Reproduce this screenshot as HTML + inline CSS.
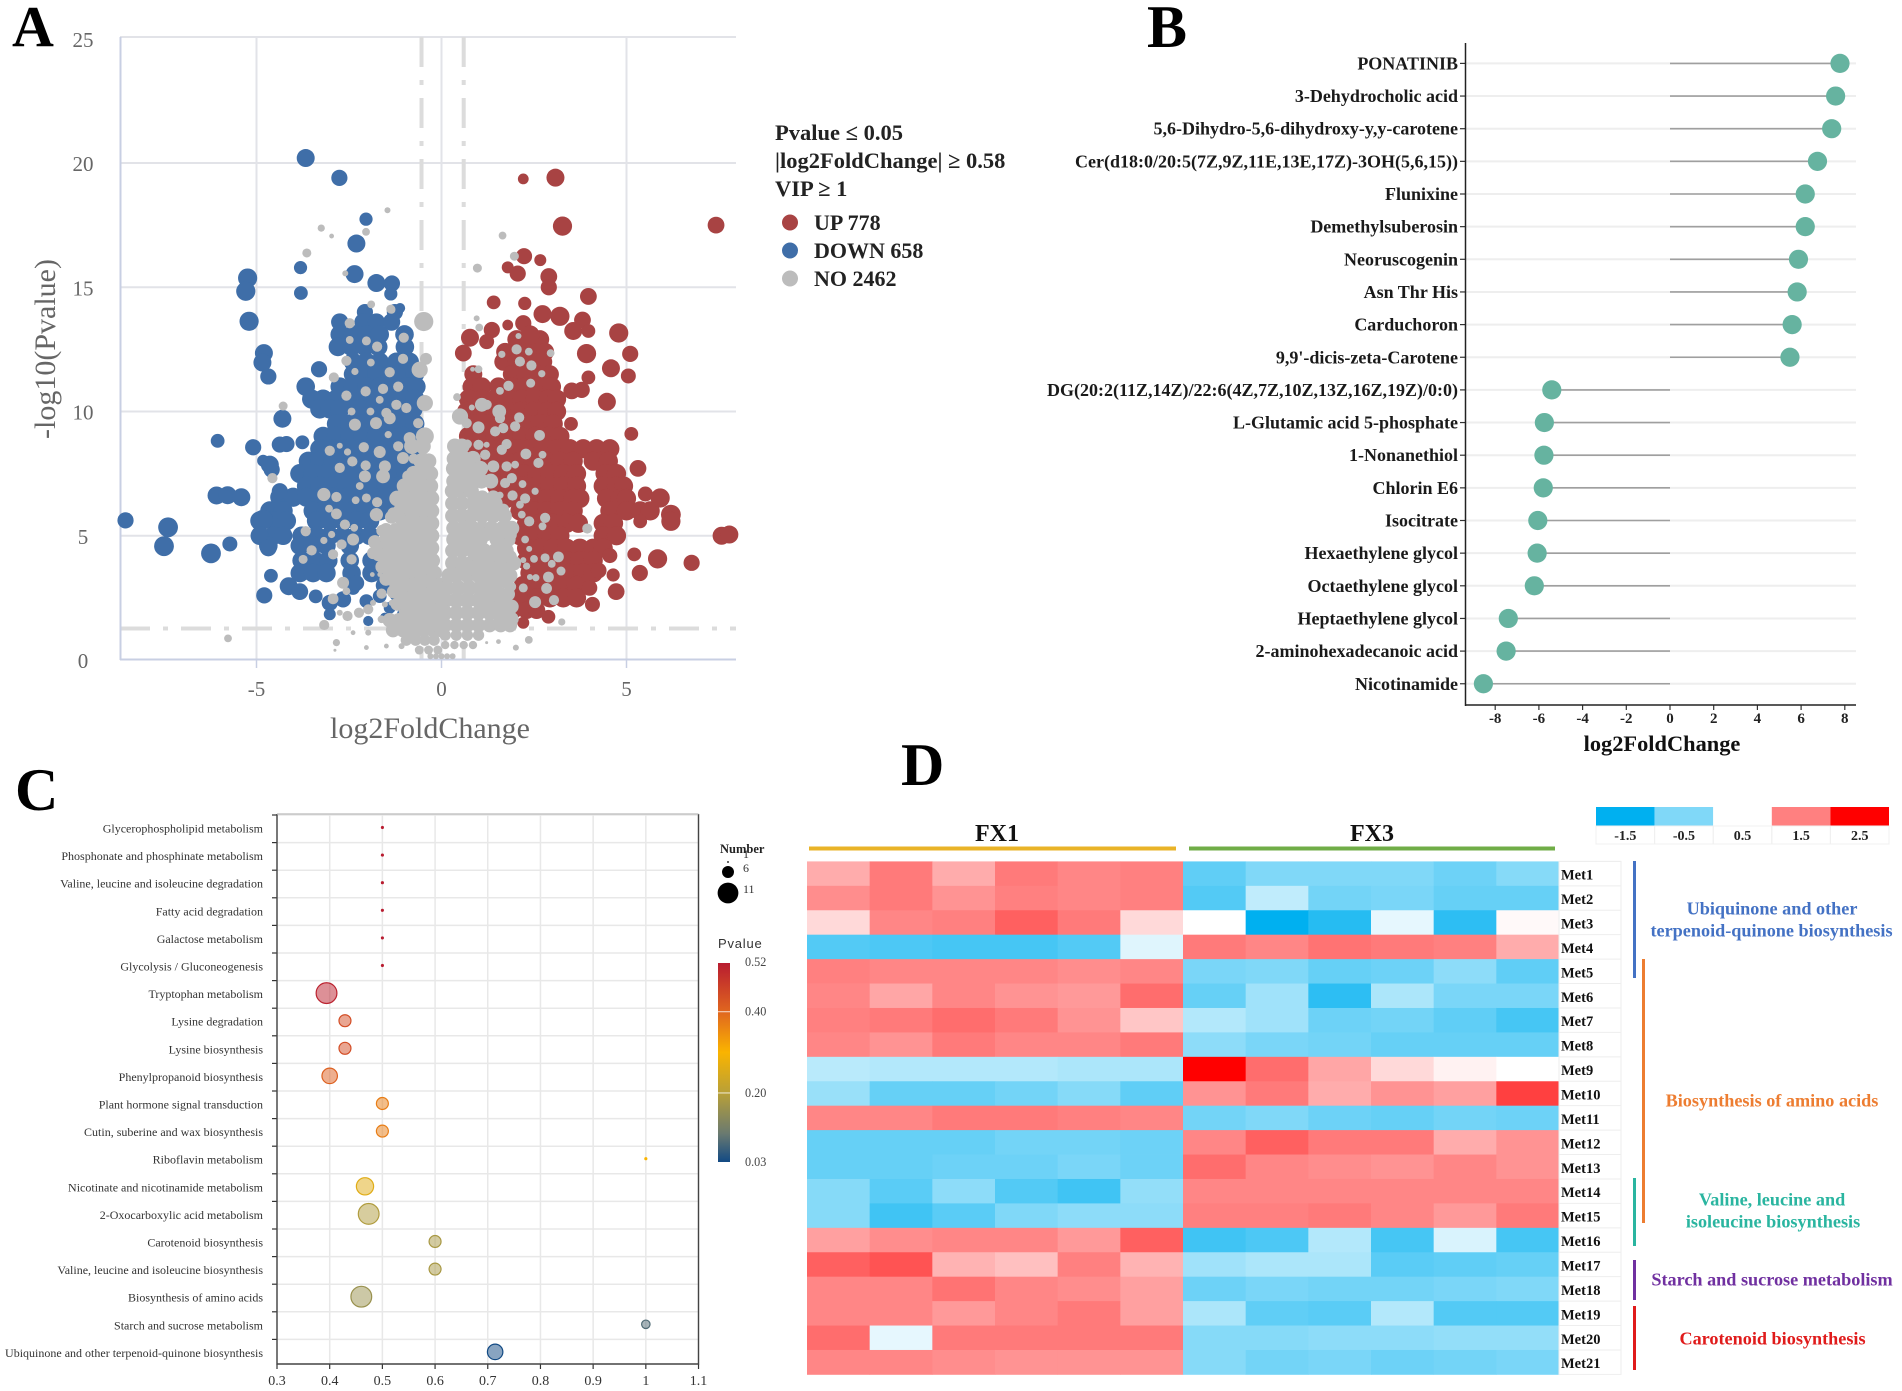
<!DOCTYPE html>
<html lang="en">
<head>
<meta charset="utf-8">
<title>Metabolomics figure</title>
<style>
html,body{margin:0;padding:0;background:#fff;}
#fig{display:block;width:1902px;height:1391px;font-family:"Liberation Serif",serif;}
text{font-family:"Liberation Serif",serif;}
</style>
</head>
<body>
<svg id="fig" xmlns="http://www.w3.org/2000/svg" width="1902" height="1391" viewBox="0 0 1902 1391">
  <rect width="1902" height="1391" fill="#fff"/>
  <g id="panelA"></g>
  <g id="panelB"></g>
  <g id="panelC"></g>
  <g id="panelD"></g>

  <text x="12" y="46" font-size="58" font-weight="bold" fill="#000">A</text>
  <text x="1147" y="47" font-size="60" font-weight="bold" fill="#000">B</text>
  <text x="15" y="810" font-size="60" font-weight="bold" fill="#000">C</text>
  <text x="901" y="785" font-size="60" font-weight="bold" fill="#000">D</text>

  <text x="430" y="738" font-size="30" fill="#666" text-anchor="middle">log2FoldChange</text>
  <text transform="translate(55,349) rotate(-90)" font-size="30" fill="#666" text-anchor="middle">-log10(Pvalue)</text>

  <text x="775" y="140" font-size="22.5" font-weight="bold" fill="#222">Pvalue ≤ 0.05</text>
  <text x="775" y="168" font-size="22.5" font-weight="bold" fill="#222">|log2FoldChange| ≥ 0.58</text>
  <text x="775" y="196" font-size="22.5" font-weight="bold" fill="#222">VIP ≥ 1</text>
  <circle cx="790" cy="222.5" r="8" fill="#a84343"/>
  <circle cx="790" cy="250.5" r="8" fill="#3f6ea8"/>
  <circle cx="790" cy="278.5" r="8" fill="#bcbcbc"/>
  <text x="814" y="230" font-size="22" font-weight="bold" fill="#222">UP 778</text>
  <text x="814" y="258" font-size="22" font-weight="bold" fill="#222">DOWN 658</text>
  <text x="814" y="286" font-size="22" font-weight="bold" fill="#222">NO 2462</text>

  <text x="1662" y="751" font-size="22.4" font-weight="bold" fill="#111" text-anchor="middle">log2FoldChange</text>

  <text x="720" y="853" font-size="12.5" font-weight="bold" fill="#222">Number</text>
  <text x="718" y="948" font-size="13" letter-spacing="0.8" style="font-family:'Liberation Sans',sans-serif" fill="#333">Pvalue</text>

  <text x="997" y="841" font-size="24" font-weight="bold" fill="#111" text-anchor="middle">FX1</text>
  <text x="1372" y="841" font-size="24" font-weight="bold" fill="#111" text-anchor="middle">FX3</text>
  <rect x="809" y="846.5" width="367" height="4" fill="#e9b327"/>
  <rect x="1189" y="846.5" width="366" height="4" fill="#70ad47"/>

  <rect x="1633" y="861" width="3" height="117" fill="#4472c4"/>
  <rect x="1642" y="959" width="3" height="264" fill="#ed7d31"/>
  <rect x="1633" y="1178" width="3" height="68" fill="#2ab5a0"/>
  <rect x="1633" y="1260" width="3" height="40" fill="#7030a0"/>
  <rect x="1633" y="1306" width="3" height="64" fill="#e01b1b"/>

  <g font-size="18.2" font-weight="bold" text-anchor="middle">
    <text x="1772" y="914.5" fill="#4472c4">Ubiquinone and other</text>
    <text x="1771.5" y="936.5" fill="#4472c4">terpenoid-quinone biosynthesis</text>
    <text x="1772" y="1106.5" fill="#ed7d31">Biosynthesis of amino acids</text>
    <text x="1772" y="1205.5" fill="#2ab5a0">Valine, leucine and</text>
    <text x="1773" y="1227.5" fill="#2ab5a0">isoleucine biosynthesis</text>
    <text x="1772" y="1285.5" fill="#7030a0">Starch and sucrose metabolism</text>
    <text x="1772.5" y="1344.5" fill="#e01b1b">Carotenoid biosynthesis</text>
  </g>
</svg>

<script>
/* ---------- Panel A data: [y, bubble size, [x values]] rows and [x, y, size] single points ---------- */
const downRows = [
[14,2.7,[-2.07,-1.26]],
[13.6,2.9,[-2.75,-2.12,-1.76,-1.35]],
[13.1,3.1,[-2.75,-2.39,-2.03,-1.67,-1.0]],
[12.6,3.1,[-2.8,-2.43,-2.07,-1.71,-0.99]],
[12,3.1,[-2.39,-2.03,-1.67,-1.22,-0.86]],
[11.5,3.1,[-2.39,-2.03,-1.76,-1.4,-1.04,-0.72]],
[11,3.1,[-3.67,-2.75,-2.39,-2.03,-1.67,-1.31,-0.95,-0.68]],
[10.5,3.2,[-3.51,-3.2,-2.84,-2.48,-2.12,-1.76,-1.4,-1.04,-0.72]],
[10.1,3.2,[-3.29,-3.02,-2.75,-2.21,-1.85,-1.49,-1.13,-0.77]],
[9.5,3.2,[-2.84,-2.48,-2.12,-1.76,-1.4,-1.04,-0.72]],
[9,3.2,[-3.2,-2.84,-2.48,-2.12,-1.76,-1.4,-1.04,-0.72]],
[8.5,3.2,[-3.29,-2.93,-2.57,-2.21,-1.85,-1.49,-1.13,-0.77]],
[8,3.2,[-3.6,-3.29,-2.93,-2.57,-2.21,-1.85,-1.49,-1.13,-0.77]],
[7.5,3.2,[-3.83,-3.47,-3.11,-2.75,-2.39,-2.03,-1.67,-1.31,-0.95]],
[7,3.2,[-3.65,-3.29,-2.93,-2.57,-2.21,-1.85,-1.49,-1.13]],
[6.55,3.2,[-4.37,-4.01,-3.65,-3.29,-2.93,-2.57,-2.21,-1.85,-1.49]],
[6,3.2,[-4.64,-4.28,-3.47,-3.11,-2.75,-2.39,-2.03,-1.67,-1.31]],
[5.6,3.2,[-4.91,-4.55,-4.19,-3.38,-3.02,-2.66,-2.3,-1.94]],
[5,3.1,[-4.91,-4.55,-4.28,-3.78,-3.38,-3.02,-2.66,-2.3,-1.94]],
[4.6,3.1,[-4.68,-3.83,-3.47,-3.11,-2.48]],
[4,3.1,[-3.78,-3.42,-3.06,-2.48,-1.89,-1.58]],
[3.5,3.1,[-3.83,-3.47,-3.11,-2.43,-1.89,-1.58]]
];
const downPoints = [
[-3.67,20.2,3],[-2.76,19.4,2.7],[-2.04,17.74,2.2],[-2.3,16.76,3],[-2.35,15.53,3],[-3.81,15.79,2.2],[-3.8,14.77,2.3],
[-5.24,15.37,3.2],[-5.29,14.84,3.2],[-5.2,13.63,3.2],[-1.76,15.17,3],[-1.34,15.15,2.7],[-1.37,14.73,2.2],[-1.12,14.16,1.7],
[-4.61,3.39,2.3],[-4.79,2.6,2.7],[-4.13,2.97,3],[-3.83,2.75,2.8],[-3.4,2.56,2.3],[-3.02,2.3,2.7],[-3.02,1.84,2],[-2.66,2.44,2.7],
[-2.39,2.9,2.3],[-2.03,2.37,2.3],[-1.98,1.57,1.7],[-1.67,2.57,2.3],[-1.4,2.1,2],[-1.53,1.7,1.7],[-1.22,2.64,2.3],[-1.04,1.84,2],
[-4.8,12.35,3],[-4.84,11.97,3],[-4.68,11.41,2.7],[-3.31,11.7,2.7],[-4.3,9.71,3],[-6.05,8.82,2.3],[-5.09,8.56,2.7],[-4.37,8.67,2.7],
[-4.19,8.69,2.7],[-3.76,8.76,2.3],[-4.82,8.02,2],[-4.64,7.86,3],[-4.59,7.66,2.7],[-6.08,6.62,3],[-5.78,6.63,3],[-5.41,6.55,3],
[-8.54,5.62,2.7],[-7.39,5.34,3.3],[-7.5,4.58,3.3],[-6.23,4.29,3.3],[-5.72,4.67,2.5],[-4.37,6.79,2.7],[-4.82,5.65,3.3],[-4.91,5.05,2.8],[-4.68,4.51,2.8],
[-2.3,3.1,2.6],[-1.55,3,2.8],[-1.2,3.1,2.6]
];
const upRows = [
[12.9,3.1,[2.03,2.39,2.66]],
[12.4,3,[1.72,2.08,2.44,2.8]],
[12,3,[1.67,2.03,2.39,2.75]],
[11.5,3,[0.86,1.9,2.26,2.62,2.93]],
[11,3.1,[0.82,1.09,1.54,1.9,2.26,2.62,2.98]],
[10.5,3.2,[0.73,1.09,1.45,1.81,2.17,2.53,2.89,3.11]],
[10,3.2,[0.68,1.04,1.4,1.76,2.12,2.48,2.84,3.11]],
[9.5,3.2,[0.86,1.22,1.58,1.94,2.3,2.66,3.02]],
[9,3.2,[0.73,1.09,1.45,1.81,2.17,2.53,2.89,3.2]],
[8.5,3.2,[0.95,1.31,1.67,2.03,2.39,2.75,3.11,3.47,3.83,4.19,4.55]],
[8,3.2,[1.04,1.4,1.76,2.12,2.48,2.84,3.2,3.56,4.1,4.51]],
[7.5,3.2,[1.13,1.49,1.85,2.21,2.57,2.93,3.29,3.65,4.42,4.73]],
[7,3.2,[1.49,1.85,2.21,2.57,2.93,3.29,3.65,4.37,4.73,4.92]],
[6.5,3.2,[1.76,2.12,2.48,2.84,3.2,3.56,3.74,4.46,4.83,5.0]],
[6,3.2,[2.12,2.48,2.84,3.2,3.56,4.55,5.0,5.37,5.64]],
[5.5,3.2,[2.3,2.66,3.02,3.38,3.7,4.37,4.65]],
[5,3.2,[2.12,2.48,2.84,3.2,4.37,4.73]],
[4.5,3.2,[2.3,2.66,3.02,3.38,3.74,4.1,4.37]],
[4,3.2,[2.3,2.66,3.02,3.38,3.74,4.1]],
[3.5,3.2,[2.39,2.75,3.11,3.47,3.83,4.1]],
[3,3.2,[2.21,2.57,2.93,3.29,3.65]],
[2.5,3.2,[1.49,1.85,2.21,2.57,2.93,3.29,3.65]],
[2,2.9,[1.58,1.94,2.3,2.57]]
];
const upPoints = [
[2.21,19.36,1.8],[3.08,19.41,3],[3.27,17.46,3.2],[7.42,17.5,2.8],[2.23,16.25,2.7],[2.67,16.09,2],[1.79,15.8,2],[2.06,15.55,2.7],
[2.9,15.43,2.8],[2.9,15,2.7],[3.97,14.63,2.8],[1.41,14.39,2.3],[2.25,14.35,2.2],[2.73,13.92,3],[3.2,13.83,3.2],[3.81,13.68,2.8],
[3.56,13.24,3],[3.97,13.24,2.3],[1.79,13.48,1.8],[2.21,13.55,2.7],[2.39,13.08,3.2],[1.36,13.28,2.7],[1.22,12.81,2.5],[0.77,12.97,3],
[0.59,12.35,2.8],[4.79,13.16,3.2],[5.1,12.32,2.7],[3.92,12.33,3.2],[4.58,11.74,3],[5.05,11.43,2.5],[3.97,11.37,2.3],[3.52,10.83,2.8],
[3.79,10.87,2.7],[4.47,10.39,3],[3.5,9.5,2.3],[5.13,9.1,2.3],[5.31,7.71,2.8],[5.51,6.68,2.5],[5.91,6.52,3.2],[6.2,5.85,3.3],[6.2,5.58,3.2],
[7.57,5,3],[7.78,5.05,3],[5.21,4.25,2.3],[5.84,4.07,3.2],[6.76,3.91,2.7],[5.36,3.5,2.7],[4.64,3.42,2.2],[4.72,2.75,2.8],[4.08,2.24,2.5],
[2.89,1.74,2.3],[2.21,1.5,2],[5.37,5.58,2.3],
[4.55,4.2,2.5],[4.25,3.6,2.6],[4.0,2.9,2.6]
];
const noRows = [
[8.6,2.6,[-0.8,-0.5]],[8,2.6,[-0.55,-0.35]],[7.5,2.6,[-0.75,-0.5,-0.3]],[7,2.6,[-1.0,-0.75,-0.5,-0.3]],[6.5,2.6,[-1.2,-0.95,-0.7,-0.45,-0.27]],
[6,2.6,[-1.1,-0.8,-0.55,-0.27]],[5.5,2.6,[-1.0,-0.75,-0.5,-0.27]],[5,2.6,[-1.25,-1,-0.75,-0.5,-0.27]],
[4.5,2.6,[-1.6,-1.3,-1.0,-0.75,-0.5,-0.27]],[4,2.6,[-1.4,-1.15,-0.9,-0.65,-0.4,-0.25]],[3.5,2.6,[-1.3,-1.05,-0.8,-0.55,-0.3,-0.2]],
[3,2.6,[-1.2,-0.95,-0.7,-0.45,-0.2,-0.05]],[2.5,2.6,[-1.05,-0.8,-0.55,-0.3,-0.1]],[2,2.6,[-0.95,-0.7,-0.45,-0.2,-0.05]],
[1.6,2.4,[-1.4,-1.15,-0.9,-0.65,-0.4,-0.15]],[1.2,2.4,[-1.31,-1.04,-0.77,-0.5,-0.23,0]],[0.8,1.9,[-0.95,-0.7,-0.45,-0.2]],[0.4,1.5,[-0.6,-0.35,-0.1]],
[0.15,1,[-0.3,-0.15,0,0.15,0.3]],
[5.75,2.2,[-1.35,-1.15]],[5.25,2.2,[-1.5,-1.25]],[4.75,2.3,[-1.8,-1.55,-1.3]],[4.25,2.3,[-1.7,-1.45]],[3.75,2.3,[-1.6,-1.35]],[3.25,2.2,[-1.5,-1.25]],[2.75,2.2,[-1.3,-1.1]],[2.25,2.2,[-1.2,-1]],
[8.6,2.6,[0.36,0.55]],[8.1,2.6,[0.35,0.6,0.85]],[7.7,2.6,[0.33,0.55,0.8,1.05]],[7.2,2.5,[0.33,0.58,0.83,1.08,1.33]],[6.8,2.6,[0.3,0.55,0.8]],
[6.3,2.5,[0.3,0.55,0.85,1.15,1.45]],[5.8,2.5,[0.3,0.55,0.8,1.1,1.4,1.7]],[5.3,2.5,[0.33,0.6,0.85,1.1,1.35,1.65,1.9]],[4.85,2.5,[0.33,0.55,0.8,1.05,1.5,1.8]],
[4.4,2.5,[0.3,0.55,0.85,1.15,1.45,1.75]],[3.9,2.5,[0.3,0.55,0.8,1.1,1.4,1.7,1.95]],[3.4,2.5,[0.2,0.4,0.7,1,1.3,1.6,1.85]],[2.9,2.6,[0.15,0.45,0.75,1.05,1.35]],
[2.4,2.6,[0.1,0.4,0.7,1,1.3,1.6]],[1.9,2.5,[0.1,0.4,0.7,1,1.3,1.6,1.8]],[1.4,2.4,[0.1,0.4,0.7,1,1.3,1.6,1.85]],[1,1.9,[0.1,0.4,0.7,1]],[0.6,1.4,[0.1,0.35,0.6,0.85]],
[6.55,2.3,[1.1,1.4]],[6.05,2.3,[0.9,1.2,1.5]],[5.05,2.3,[1.2,1.55,1.85]],[4.15,2.3,[1,1.3,1.6,1.85]],[3.65,2.3,[0.9,1.2,1.5,1.8]],[3.15,2.3,[1.2,1.5,1.75]],[2.65,2.3,[1.3,1.6,1.8]],[2.15,2.3,[1.3,1.6,1.9]],[1.65,2.3,[1.6,1.9]]
];
const noPoints = [
[-1.46,18.1,1],[-3.25,17.38,1.2],[-2.97,17.06,0.8],[-2.04,17.23,1.3],[-3.64,16.38,1.5],[-2.6,15.56,1],[1.65,17.08,1.3],[1.97,16.25,1.5],[0.97,15.77,1.5],
[-1.9,14.31,1.3],[-1.37,14.12,1.5],[-0.48,13.62,3.2],[-0.59,11.68,2.7],[-0.45,10.34,2.7],[-0.42,12.12,2],[-1.02,12.97,1.7],[-1.35,14.09,1.3],
[-2.48,13.55,1.7],[-2.03,12.84,1.5],[-1.74,12.61,1.7],[-2.48,12.88,1.3],[-1.91,11.97,1.3],[-2.57,12.04,1.7],[-2.34,11.61,1.2],[-1.4,11.58,1.7],
[-1.04,12.12,1.7],[-2.91,11.37,1.7],[-2.05,10.81,1.7],[-2.57,10.64,1.7],[-1.58,10.91,1.7],[-1.67,10.47,1.3],[-1.17,11,1.7],[-1.22,10.27,1.7],
[-0.95,10.14,1.7],[-1.49,9.94,1.7],[-2.43,10,1.3],[-1.92,10,1.3],[-4.28,10.22,1.5],[-2.34,9.47,2],[-1.77,9.53,2],[-1.4,9.73,2],[-0.63,9.53,1.7],
[-0.45,9,3],[-0.86,8.93,2],[-1.44,9.07,1.2],[-1.17,8.6,1.7],[-3.02,8.42,1.7],[-2.75,8.62,1],[-2.54,8.37,1.2],[-2.1,8.56,1.7],[-1.67,8.37,2],
[-1.04,8.13,2],[-0.45,7.66,3],[-2.75,7.73,1.7],[-2.41,7.99,1.7],[-2.05,7.83,1.7],[-1.53,7.79,2],[-2.07,7.39,2],[-1.58,7.39,2.3],[-0.9,7.39,2],
[-4.57,7.32,1.7],[-2.21,7,1.3],[-3.18,6.66,2.2],[-2.84,6.56,1.7],[-2.32,6.43,1.3],[-2.03,6.52,1.5],[-1.74,6.35,1.7],[-3.04,6.09,1.3],[-2.84,5.88,1.8],
[-3.67,5.18,1.7],[-2.61,5.45,1.7],[-2.36,5.32,1.3],[-3.18,4.81,1.2],[-2.97,5.05,1.2],[-3.51,4.41,1.7],[-3.74,4.05,1.5],[-2.93,4.25,1.7],[-2.7,4.65,1.7],
[-2.39,4.85,2],[-2.43,4.05,1.7],[-1.76,5.85,2.2],[-1.76,4.58,2],[-2.66,3.11,2],[-2.57,2.77,1.3],[-2.93,2.46,1.8],[-1.62,2.67,1.7],[-1.98,2.04,1.7],
[-2.23,1.9,1.7],[-2.54,1.77,1.7],[-2.75,1.9,1],[-3.17,1.41,1.7],[-5.77,0.87,1.3],[-2.84,0.7,1.2],[-2.88,0.39,0.5],[-2.39,1.1,0.8],[-1.98,1.1,1],
[-2.03,0.5,0.8],[-1.49,0.56,0.8],[-1.08,0.56,1],[-1.85,2.3,1],[-1.53,2.24,1],[-1.35,2.3,1],[-1.62,1.64,1.3],[-1.87,3.44,0.8],[-1.67,3.44,0.8],
[-0.75,8.1,1.7],[-0.5,8.5,2],[-1.6,5.2,2],[-1.85,4.3,2],[-1.3,5.9,2],
[0.5,9.8,2.7],[0.68,9.53,1.7],[0.42,10.58,1.3],[1.09,10.27,2.3],[0.82,10.16,1],[1.56,10,2.3],[1.58,9.73,1.7],[1,9.36,2],[2.1,9.76,1.7],[1.99,9.4,1.7],
[1.67,9.33,1.7],[1.45,9.2,1.7],[2.65,9.04,1.8],[1.76,8.69,1.7],[1.63,8.46,1.7],[0.7,8.69,1.5],[1,8.66,1.7],[1.22,8.66,1],[2.28,8.29,1.8],[2.73,8.26,1.3],
[2.62,7.93,1.7],[1.18,8.26,1.7],[1.4,7.79,2],[1.76,7.79,1.7],[1.99,7.86,1.3],[1.9,7.32,1.7],[1.72,7.12,1.7],[2.19,7.08,1.3],[2.53,6.79,1.2],[1.92,6.62,1.7],
[1.58,6.63,1.2],[2.26,6.5,1.7],[2.12,6.25,1.3],[1.67,6.05,2],[2.17,5.85,1.3],[2.37,5.58,1.7],[2.8,5.72,1.7],[2.73,5.38,1.3],[3.94,5.29,1.7],[2.26,4.85,1.3],
[2.37,4.47,1],[2.21,4.02,1],[2.5,4.07,1.3],[2.3,3.78,1.2],[2.8,4.11,1.5],[3.16,4.15,1.8],[2.98,3.87,1.3],[3.23,3.58,1.5],[2.39,3.34,1],[2.55,3.31,1.2],
[2.89,3.34,1.8],[2.84,2.88,1.8],[2.21,2.9,1.5],[1.88,2.95,1.7],[1.58,2.71,2],[2.53,2.33,2],[3.04,2.41,1.7],[3.25,1.53,1.2],[2.36,0.81,1.3],[2.01,0.5,1],
[1.54,0.74,0.8],[1.22,0.7,0.5],[2.03,12.5,1.7],[1.63,12.3,1.2],[2.36,12.41,1.3],[2.95,12.35,1.3],[2.12,12.01,1.7],[2.43,11.85,1.7],[2.71,11.52,1.2],
[2.41,11.14,1.5],[2.08,13.04,1],[1.81,11.03,1.7],[1.58,10.83,1.3],[1.02,13.38,1.3],[0.95,13.75,1],[1,11.7,1.3],[0.84,11.7,0.8],[1.22,10.27,1.7]
];
const volcanoXTicks = [-5, 0, 5];
const volcanoYTicks = [0, 5, 10, 15, 20, 25];
const foldThresholds = [-0.54, 0.6];
const pThreshold = [1.27];

/* ---------- Panel B data ---------- */
const metabolites = ["PONATINIB","3-Dehydrocholic acid","5,6-Dihydro-5,6-dihydroxy-y,y-carotene","Cer(d18:0/20:5(7Z,9Z,11E,13E,17Z)-3OH(5,6,15))","Flunixine","Demethylsuberosin","Neoruscogenin","Asn Thr His","Carduchoron","9,9'-dicis-zeta-Carotene","DG(20:2(11Z,14Z)/22:6(4Z,7Z,10Z,13Z,16Z,19Z)/0:0)","L-Glutamic acid 5-phosphate","1-Nonanethiol","Chlorin E6","Isocitrate","Hexaethylene glycol","Octaethylene glycol","Heptaethylene glycol","2-aminohexadecanoic acid","Nicotinamide"];
const foldChanges = [7.78,7.58,7.40,6.75,6.19,6.19,5.88,5.82,5.59,5.49,-5.41,-5.75,-5.77,-5.80,-6.05,-6.08,-6.21,-7.40,-7.50,-8.54];
const lollipopTicks = [-8,-6,-4,-2,0,2,4,6,8];

/* ---------- Panel C data ---------- */
const pathways = ["Glycerophospholipid metabolism","Phosphonate and phosphinate metabolism","Valine, leucine and isoleucine degradation","Fatty acid degradation","Galactose metabolism","Glycolysis / Gluconeogenesis","Tryptophan metabolism","Lysine degradation","Lysine biosynthesis","Phenylpropanoid biosynthesis","Plant hormone signal transduction","Cutin, suberine and wax biosynthesis","Riboflavin metabolism","Nicotinate and nicotinamide metabolism","2-Oxocarboxylic acid metabolism","Carotenoid biosynthesis","Valine, leucine and isoleucine biosynthesis","Biosynthesis of amino acids","Starch and sucrose metabolism","Ubiquinone and other terpenoid-quinone biosynthesis"];
const richFactor = [0.5,0.5,0.5,0.5,0.5,0.5,0.394,0.429,0.429,0.4,0.5,0.5,1,0.467,0.474,0.6,0.6,0.46,1,0.714];
const hitNumber = [1,1,1,1,1,1,11,6,6,8,6,6,1,9,11,6,6,11,4,8];
const pathwayP = [0.52,0.52,0.52,0.52,0.52,0.52,0.51,0.44,0.44,0.41,0.37,0.37,0.3,0.26,0.19,0.18,0.18,0.16,0.08,0.03];
const bubbleXTicks = [0.3,0.4,0.5,0.6,0.7,0.8,0.9,1,1.1];
const numberLegend = [1,6,11];
const pLegendTicks = [0.52,0.40,0.20,0.03];

/* ---------- Panel D data ---------- */
const heatRowNames = ["Met1","Met2","Met3","Met4","Met5","Met6","Met7","Met8","Met9","Met10","Met11","Met12","Met13","Met14","Met15","Met16","Met17","Met18","Met19","Met20","Met21"];
const heatValues = [
[1.15,1.55,1.15,1.55,1.45,1.5,-0.75,-0.5,-0.5,-0.5,-0.65,-0.45],
[1.4,1.55,1.35,1.5,1.45,1.5,-0.85,0.0,-0.6,-0.55,-0.7,-0.7],
[0.8,1.45,1.5,1.75,1.55,0.8,0.5,-1.5,-1.2,0.3,-1.15,0.55],
[-0.85,-0.9,-0.95,-0.95,-0.85,0.25,1.55,1.45,1.6,1.55,1.5,1.15],
[1.5,1.45,1.45,1.45,1.4,1.45,-0.55,-0.5,-0.7,-0.65,-0.4,-0.75],
[1.45,1.2,1.45,1.35,1.3,1.65,-0.7,-0.25,-1.15,-0.15,-0.55,-0.55],
[1.5,1.55,1.65,1.55,1.35,0.95,-0.1,-0.25,-0.65,-0.6,-0.75,-0.95],
[1.45,1.35,1.55,1.45,1.45,1.55,-0.4,-0.55,-0.6,-0.7,-0.7,-0.7],
[-0.05,-0.1,-0.1,-0.1,-0.15,-0.15,2.5,1.65,1.2,0.8,0.6,0.5],
[-0.3,-0.7,-0.7,-0.6,-0.45,-0.75,1.35,1.55,1.15,1.35,1.25,2.0],
[1.45,1.45,1.55,1.55,1.5,1.45,-0.6,-0.5,-0.65,-0.7,-0.6,-0.65],
[-0.7,-0.7,-0.7,-0.6,-0.6,-0.65,1.45,1.75,1.55,1.55,1.15,1.35],
[-0.7,-0.7,-0.65,-0.65,-0.55,-0.65,1.65,1.45,1.4,1.35,1.45,1.35],
[-0.45,-0.8,-0.4,-0.85,-1.0,-0.35,1.45,1.45,1.45,1.45,1.45,1.45],
[-0.45,-1.0,-0.8,-0.5,-0.4,-0.4,1.5,1.5,1.55,1.45,1.3,1.55],
[1.25,1.4,1.45,1.45,1.3,1.75,-1.0,-0.9,-0.1,-0.95,0.2,-0.95],
[1.75,1.85,1.1,1.0,1.5,1.1,-0.25,-0.15,-0.15,-0.8,-0.75,-0.7],
[1.45,1.45,1.6,1.45,1.4,1.25,-0.65,-0.55,-0.6,-0.6,-0.55,-0.5],
[1.45,1.45,1.3,1.45,1.55,1.25,-0.15,-0.75,-0.8,-0.1,-0.85,-0.85],
[1.65,0.3,1.55,1.55,1.55,1.55,-0.45,-0.45,-0.4,-0.4,-0.35,-0.35],
[1.45,1.45,1.4,1.35,1.35,1.35,-0.45,-0.6,-0.55,-0.65,-0.6,-0.55]
];
const heatLegendValues = [-1.5,-0.5,0.5,1.5,2.5];
const heatLegendLabels = ["-1.5","-0.5","0.5","1.5","2.5"];

/* ---------- helpers and scales ---------- */
const NS = "http://www.w3.org/2000/svg";
function mk(tag, attrs, parent, txt){
  const el = document.createElementNS(NS, tag);
  for (const k in attrs) el.setAttribute(k, attrs[k]);
  if (txt !== undefined) el.textContent = txt;
  parent.appendChild(el);
  return el;
}
const hex2 = h => [parseInt(h.slice(1,3),16),parseInt(h.slice(3,5),16),parseInt(h.slice(5,7),16)];
function ramp(stops, v){
  if (v <= stops[0][0]) return stops[0][1];
  for (let i=1;i<stops.length;i++){
    if (v <= stops[i][0]){
      const t=(v-stops[i-1][0])/(stops[i][0]-stops[i-1][0]);
      const a=hex2(stops[i-1][1]), b=hex2(stops[i][1]);
      return "rgb("+a.map((c,j)=>Math.round(c+(b[j]-c)*t)).join(",")+")";
    }
  }
  return stops[stops.length-1][1];
}
const xA = v => 441.5 + 37*v;
const yA = v => 660 - 24.85*v;
const rA = s => 3*s;
const xB = v => 1670 + 21.85*v;
const yB = i => 63.4 + 32.65*i;
const xC = v => 277 + (v-0.3)*526.9;
const yCband = i => 815 + 27.6*i;
const yC = i => yCband(i) + 13.5;
const rC = n => 0.88*n + 0.7;
const heatStops = [[-1.5,"#00b0f0"],[-0.5,"#80d8f8"],[0.5,"#ffffff"],[1.5,"#ff8080"],[2.5,"#ff0000"]];
const pStops = [[0.03,"#124a84"],[0.10,"#6a7a70"],[0.20,"#b8a038"],[0.30,"#fab400"],[0.40,"#e0661f"],[0.52,"#b81c30"]];
const yPbar = p => 1162 - (p-0.03)/(0.49)*199;

/* ---------- Panel A ---------- */
const A = document.getElementById("panelA");
volcanoYTicks.forEach(t=>{
  if (t > 0 && t < 25){
    const gl = mk("line",{x1:120,x2:736,y1:yA(t),y2:yA(t),stroke:"#e2e3e8","stroke-width":2},A);
    
    
  }
  const lb = mk("text",{x:83,y:yA(t)+8,"font-size":21,fill:"#666","text-anchor":"middle"},A,String(t));
  
  
});
const topEdge = mk("line",{x1:120,x2:736,y1:37,y2:37,stroke:"#e2e3e8","stroke-width":2},A);


volcanoXTicks.forEach(t=>{
  const gl = mk("line",{x1:xA(t),x2:xA(t),y1:37,y2:659,stroke:"#e2e3e8","stroke-width":2},A);
  
  
  const tk = mk("line",{x1:xA(t),x2:xA(t),y1:659,y2:668,stroke:"#c8cfe3","stroke-width":1.5},A);
  
  
  const lb = mk("text",{x:xA(t),y:696,"font-size":21,fill:"#666","text-anchor":"middle"},A,String(t));
  
  
});
foldThresholds.forEach(v=>{
  const th = mk("line",{x1:xA(v),x2:xA(v),y1:37,y2:659,stroke:"#dcdcdc","stroke-width":4,"stroke-dasharray":"30 13 5 13"},A);
  
  
});
pThreshold.forEach(v=>{
  const th = mk("line",{x1:120,x2:736,y1:yA(v),y2:yA(v),stroke:"#dcdcdc","stroke-width":4,"stroke-dasharray":"30 13 5 13"},A);
  
  
});
const axL = mk("line",{x1:120.5,x2:120.5,y1:37,y2:660,stroke:"#c8cfe3","stroke-width":2},A);


const axB = mk("line",{x1:120,x2:736,y1:659.5,y2:659.5,stroke:"#c8cfe3","stroke-width":2},A);


function drawVolcano(rows, points, color, name){
  const g = mk("g",{fill:color},A);
  
  
  rows.forEach(r=>{
    r[2].forEach(x=>{
      const c = mk("circle",{cx:xA(x),cy:yA(r[0]),r:rA(r[1])},g);
      
      
    });
  });
  points.forEach(p=>{
    const c = mk("circle",{cx:xA(p[0]),cy:yA(p[1]),r:rA(p[2])},g);
    
    
  });
}
drawVolcano(downRows, downPoints, "#3f6ea8", "down");
drawVolcano(upRows, upPoints, "#a84343", "up");
drawVolcano(noRows, noPoints, "#bcbcbc", "no-change");

/* ---------- Panel B ---------- */
const B = document.getElementById("panelB");
metabolites.forEach((name,i)=>{
  const gl = mk("line",{x1:1466,x2:1856,y1:yB(i),y2:yB(i),stroke:"#eeeeee","stroke-width":2},B);
  
  
  const tk = mk("line",{x1:1460,x2:1466,y1:yB(i),y2:yB(i),stroke:"#333","stroke-width":1.2},B);
  
  
  const lb = mk("text",{x:1458,y:yB(i)+6,"font-size":18,"font-weight":"bold",fill:"#1a1a1a","text-anchor":"end"},B,name);
  
  
  const st = mk("line",{x1:xB(0),x2:xB(foldChanges[i]),y1:yB(i),y2:yB(i),stroke:"#9f9f9f","stroke-width":1.6},B);
  
  
  const d = mk("circle",{cx:xB(foldChanges[i]),cy:yB(i),r:9.6,fill:"#66b3a0"},B);
  
  
});
lollipopTicks.forEach(t=>{
  const tk = mk("line",{x1:xB(t),x2:xB(t),y1:705,y2:710,stroke:"#333","stroke-width":1.2},B);
  
  
  const lb = mk("text",{x:xB(t),y:723,"font-size":15,"font-weight":"bold",fill:"#222","text-anchor":"middle"},B,String(t));
  
  
});
const bAxY = mk("line",{x1:1465.5,x2:1465.5,y1:43,y2:706,stroke:"#222","stroke-width":1.5},B);


const bAxX = mk("line",{x1:1465,x2:1856,y1:705,y2:705,stroke:"#222","stroke-width":1.5},B);



/* ---------- Panel C ---------- */
const C = document.getElementById("panelC");
bubbleXTicks.forEach(t=>{
  const gl = mk("line",{x1:xC(t),x2:xC(t),y1:814,y2:1364,stroke:"#e8e8e8","stroke-width":1.5},C);
  
  
  const tk = mk("line",{x1:xC(t),x2:xC(t),y1:1364,y2:1369,stroke:"#333","stroke-width":1.2},C);
  
  
  const lb = mk("text",{x:xC(t),y:1385,"font-size":14,fill:"#333","text-anchor":"middle"},C,String(t));
  
  
});
pathways.forEach((name,i)=>{
  const gl = mk("line",{x1:277,x2:698,y1:yCband(i),y2:yCband(i),stroke:"#e8e8e8","stroke-width":1.5},C);
  
  
  const tk = mk("line",{x1:272,x2:277,y1:yCband(i),y2:yCband(i),stroke:"#333","stroke-width":1.2},C);
  
  
  const lb = mk("text",{x:263,y:yC(i)+4,"font-size":12,fill:"#333","text-anchor":"end"},C,name);
  
  
});
const cFrame = mk("path",{d:"M277 814V1364H698.5V814",fill:"none",stroke:"#444","stroke-width":1.4},C);


const cTop = mk("line",{x1:277,x2:698.5,y1:814,y2:814,stroke:"#bbb","stroke-width":1.2},C);


pathways.forEach((name,i)=>{
  const col = ramp(pStops, pathwayP[i]);
  const b = mk("circle",{cx:xC(richFactor[i]),cy:yC(i)-1,r:rC(hitNumber[i]),fill:col,"fill-opacity":hitNumber[i]===1?1:0.5,stroke:col,"stroke-width":hitNumber[i]===1?0:1.2},C);
  
  
});
numberLegend.forEach((n,i)=>{
  const cy = [862,872,893][i];
  const ly = [858,872,893][i];
  const d = mk("circle",{cx:728,cy:cy,r:n===1?0.9:rC(n),fill:"#000"},C);
  
  
  const lb = mk("text",{x:743,y:ly,"font-size":12,fill:"#333"},C,String(n));
  
  
});
const defs = mk("defs",{},C);
const grad = mk("linearGradient",{id:"pGrad",x1:0,y1:1,x2:0,y2:0},defs);
pStops.forEach(s=>{
  mk("stop",{offset:(s[0]-0.03)/0.49,"stop-color":s[1]},grad);
});
const pBar = mk("rect",{x:718,y:963,width:12,height:199,fill:"url(#pGrad)"},C);


pLegendTicks.forEach(p=>{
  if (p===0.40 || p===0.20){
    const tk = mk("line",{x1:718,x2:730,y1:yPbar(p),y2:yPbar(p),stroke:"#fff","stroke-opacity":0.8,"stroke-width":1},C);
    
    
  }
  const lb = mk("text",{x:745,y:yPbar(p)+ (p===0.52?3:4),"font-size":12.2,fill:"#444"},C,p.toFixed(2));
  
  
});

/* ---------- Panel D ---------- */
const D = document.getElementById("panelD");
const hx0 = 807, hy0 = 861.4, cw = 752/12, ch = 513/21;
const xD = j => hx0 + j*cw;
const yD = i => hy0 + i*ch;
heatValues.forEach((row,i)=>{
  row.forEach((v,j)=>{
    const cell = mk("rect",{x:xD(j),y:yD(i),width:cw+0.4,height:ch+0.4,fill:ramp(heatStops,v)},D);
    
    
  });
  const sep = mk("line",{x1:1559,x2:1621,y1:yD(i),y2:yD(i),stroke:"#eeeeee","stroke-width":1},D);
  
  
  const lb = mk("text",{x:1561,y:yD(i)+ch/2+6,"font-size":14.5,"font-weight":"bold",fill:"#111"},D,heatRowNames[i]);
  
  
});
const hEdge = mk("rect",{x:1559,y:861.4,width:62,height:513,fill:"none",stroke:"#eeeeee","stroke-width":1},D);


heatLegendValues.forEach((v,i)=>{
  const x = 1596 + i*58.6;
  const sw = mk("rect",{x:x,y:807,width:58.6,height:19,fill:ramp(heatStops,v)},D);
  
  
  const bx = mk("rect",{x:x,y:826,width:58.6,height:18,fill:"none",stroke:"#f0f0f0","stroke-width":1},D);
  
  
  const lb = mk("text",{x:x+29.3,y:840,"font-size":14,"font-weight":"bold",fill:"#222","text-anchor":"middle"},D,heatLegendLabels[i]);
  
  
});
</script>
</body>
</html>
